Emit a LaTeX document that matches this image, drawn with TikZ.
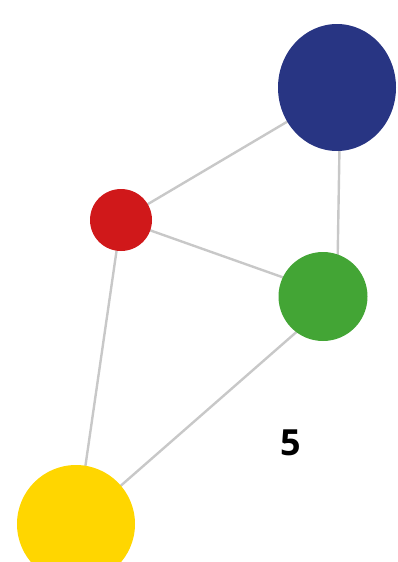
\documentclass[tikz,border=0pt]{standalone}
\usepackage{fontspec}
\newfontfamily\labelfont{Open Sans}
\usetikzlibrary{backgrounds,shapes.geometric}
\definecolor{vblue}{RGB}{40,53,131}
\definecolor{vred}{RGB}{208,24,26}
\definecolor{vgreen}{RGB}{67,165,53}
\definecolor{vyellow}{RGB}{255,214,0}
\definecolor{linkgray}{RGB}{200,200,200}
\begin{document}
\begin{tikzpicture}[
  x=1pt, y=-1pt,
  vertex/.style={ellipse, fill=#1, inner sep=0pt},
  vertex/.default={gray},
  link/.style={draw=linkgray, line width=2.4pt}
]
  \useasboundingbox (0,0) rectangle (397,562);
  \clip (0,0) rectangle (397,562);

  % Vertices
  \node[vertex=vblue, minimum width=118pt, minimum height=127pt] (blue) at (337,87.5) {};
  \node[vertex=vred, minimum size=62pt] (red) at (121,220) {};
  \node[vertex=vgreen, minimum size=89pt] (green) at (323,296.5) {};
  \node[vertex=vyellow, minimum size=118pt] (yellow) at (76,524) {};

  % Links, behind the vertices
  \begin{scope}[on background layer]
    \draw[link] ([xshift=8pt]blue.center) -- (red.center);
    \draw[link] ([xshift=3.5pt]blue.center) -- ([xshift=14pt]green.center);
    \draw[link] (red.center) -- ([xshift=14pt]green.center);
    \draw[link] (red.center) -- ([xshift=1pt]yellow.center);
    \draw[link] ([xshift=14pt]green.center) -- ([xshift=1pt]yellow.center);
  \end{scope}

  % Label
  \node[font=\labelfont\bfseries\fontsize{36}{36}\selectfont] (count) at (290.5,443) {5};
\end{tikzpicture}
\end{document}
